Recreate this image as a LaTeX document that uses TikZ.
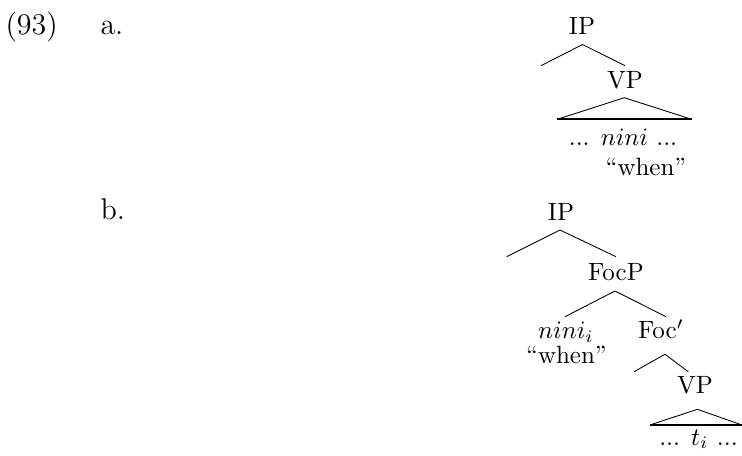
\documentclass[tikz,border=0pt]{standalone}
\begin{document}
\begin{tikzpicture}[x=0.4pt,y=-0.4pt,
  lbl/.style={inner sep=0pt,anchor=base},
  exlbl/.style={inner sep=0pt,anchor=base west,font=\large},
  branch/.style={line width=0.35pt},
  base/.style={line width=0.8pt}]
\useasboundingbox (0,0) rectangle (742,455);
% example number and sub-labels
\node[exlbl] (num) at (5,34) {(93)};
\node[exlbl] (la) at (100,34) {a.};
\node[exlbl] (lb) at (100,219) {b.};
% tree (a)
\node[lbl] (ipa) at (582,34) {IP};
\coordinate (ipaTop) at (582.5,44.5);
\coordinate (ipaL) at (541,65.7);
\node[lbl] (vpa) at (625,88.3) {VP};
\coordinate (ipaR) at (625,65.7);
\draw[branch] (ipaL) -- (ipaTop) -- (ipaR);
\coordinate (vpaTop) at (624.3,97.7);
\coordinate (vpaL) at (557.3,119.3);
\coordinate (vpaR) at (691.7,119.3);
\draw[branch] (vpaL) -- (vpaTop) -- (vpaR);
\draw[base] (vpaL) -- (vpaR);
\node[lbl] (ninia) at (623,145.7) {... $nini$ ...};
\node[lbl] (whena) at (646,175.7) {``when''};
% tree (b)
\node[lbl] (ipb) at (561,220.7) {IP};
\coordinate (ipbTop) at (560,230);
\coordinate (ipbL) at (506.7,256.7);
\coordinate (ipbR) at (616,256.7);
\draw[branch] (ipbL) -- (ipbTop) -- (ipbR);
\node[lbl] (focp) at (616,280) {FocP};
\coordinate (focpTop) at (615,291);
\coordinate (focpL) at (565,316.7);
\coordinate (focpR) at (666,316.7);
\draw[branch] (focpL) -- (focpTop) -- (focpR);
\node[lbl] (ninib) at (566,338.3) {$nini_i$};
\node[lbl] (whenb) at (566.5,363.3) {``when''};
\node[lbl] (focbar) at (661,338.3) {Foc$'$};
\coordinate (focbarTop) at (665,354.3);
\coordinate (focbarL) at (634,371.7);
\coordinate (focbarR) at (688.3,371.7);
\draw[branch] (focbarL) -- (focbarTop) -- (focbarR);
\node[lbl] (vpb) at (695,393.3) {VP};
\coordinate (vpbTop) at (697.3,409.3);
\coordinate (vpbL) at (650,425);
\coordinate (vpbR) at (742,425);
\draw[branch] (vpbL) -- (vpbTop) -- (vpbR);
\draw[base] (vpbL) -- (vpbR);
\node[lbl] (trace) at (698.5,445) {... $t_i$ ...};
\end{tikzpicture}
\end{document}
